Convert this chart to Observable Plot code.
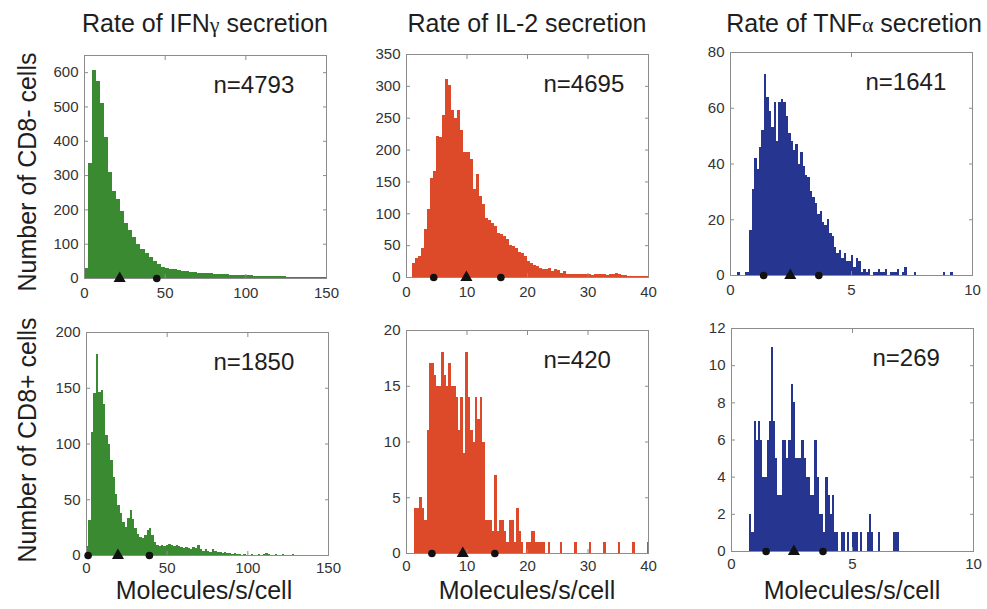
<!DOCTYPE html>
<html><head><meta charset="utf-8">
<script src="https://cdn.jsdelivr.net/npm/d3@7"></script>
<script src="https://cdn.jsdelivr.net/npm/@observablehq/plot@0.6"></script>
<style>
body{margin:0;background:#fff;}
#root{position:relative;width:987px;height:609px;overflow:hidden;font-family:"Liberation Sans",Arial,sans-serif;color:#1e1e1e;}
.lbl{position:absolute;font-size:25px;white-space:nowrap;line-height:1;}
.ctr{transform:translateX(-50%);}
.rot{transform:translate(-50%,-50%) rotate(-90deg);}
.gk{font-family:"Liberation Serif","DejaVu Serif",serif;font-size:22px;}
.panel{position:absolute;}
</style></head><body><div id="root"></div>
<script>
// ---------- data ----------
const rowLabels = ["Number of CD8- cells", "Number of CD8+ cells"];
const xLabel = "Molecules/s/cell";
const nLabels = ["n=4793", "n=4695", "n=1641", "n=1850", "n=420", "n=269"];

const xTicksIFNg = [0, 50, 100, 150];
const xTicksIL2 = [0, 10, 20, 30, 40];
const xTicksTNFa = [0, 5, 10];
const yTicksIFNgNeg = [0, 100, 200, 300, 400, 500, 600];
const yTicksIL2Neg = [0, 50, 100, 150, 200, 250, 300, 350];
const yTicksTNFaNeg = [0, 20, 40, 60, 80];
const yTicksIFNgPos = [0, 50, 100, 150, 200];
const yTicksIL2Pos = [0, 5, 10, 15, 20];
const yTicksTNFaPos = [0, 2, 4, 6, 8, 10, 12];

// histogram bins: first bin start, bin width, counts
const ifngNegStart = 0, ifngNegWidth = 2.5;
const ifngNegCounts = [30,335,605,575,510,410,310,255,230,195, 160,140,120,98,85,72,60,50,42,32,
  28,26,25,22,21,19,18,17,16,15, 15,14,13,12,12,11,10,10,9,9, 8,8,7,7,6,6,6,5,5,5, 4,4,4,3,4,3,3,3,2,3];

const il2NegStart = 1.0, il2NegWidth = 0.5;
const il2NegCounts = [22,30,33,46,75,106,156,167,222,220, 254,311,301,262,249,262,230,196,196,185,
  138,162,127,114,93,90,85,80,69,67, 64,59,51,48,46,40,38,33,25,22, 19,17,14,12,12,14,9,13,11,6,
  9,5,5,5,4,4,5,4,4,3, 4,4,4,4,3,4,4,6,4,3, 3,1,1,1,1,1,1,1];

const tnfaNegStart = 0.3, tnfaNegWidth = 0.1;
const tnfaNegCounts = [1,0,0,1,1, 16,31,42,38,46, 52,72,64,59,53, 62,48,62,63,62, 57,51,48,45,47,
  40,44,39,36,35, 30,28,26,22,23, 19,18,20,15,14, 10,8,9,6,8, 5,5,7,3,6, 5,1,2,1,2, 0,1,1,2,1,
  1,2,0,1,1, 1,2,0,1,3, 0,0,0,1,0, 0,0,0,0,0, 0,0,0,0,0, 1,0,0,1];

const ifngPosStart = 0, ifngPosWidth = 1.5;
const ifngPosCounts = [8,31,110,145,180,146,148,135,108,100, 85,70,55,45,38,30,25,33,40,32,
  24,19,16,15,18,22,24,18,12,9, 8,9,8,9,10,9,8,9,8,7, 6,7,6,5,7,6,9,5,4,5,
  4,3,5,4,3,3,2,3,2,2, 1,2,1,1,0,1,0,0,1,0, 0,1,0,1,2,1,0,0,1,0, 0,1,0,0,0,1,0,0,0,0];

const il2PosStart = 1.4, il2PosWidth = 0.4;
const il2PosCounts = [4,4,5,4,3,11,17,17,16,15, 15,18,16,15,17,15,15,14,11,14,
  9,18,14,11,10,14,12,14,10,3, 3,3,2,7,2,3,3,2,1,3, 3,1,4,2,1,0,1,1,2,2,
  1,1,1,1,0,1,0,0,0,0, 1,0,0,0,0,0,1,0,0,0, 0,0,1,0,0,0,0,0,1,0, 0,0,0,0,1,0,0,0,0,0, 1,0,0,0,0,0,1];

const tnfaPosStart = 0.75, tnfaPosWidth = 0.09;
const tnfaPosCounts = [2,1,7,6,7,6,4,4,6,7, 11,7,5,3,3,6,6,5,6,9, 8,5,5,5,6,5,4,4,3,3,
  6,4,2,2,1,4,3,2,3,1, 1,0,1,1,0,1,0,1,1,1, 0,1,0,0,1,2,1,0,0,1, 0,0,0,0,0,0,1,1,1];

// summary markers (circles = quartiles, triangle = median)
const ifngNegCircles = [44.8], ifngNegTriangle = [21.8];
const il2NegCircles = [4.5, 15.6], il2NegTriangle = [9.9];
const tnfaNegCircles = [1.37, 3.65], tnfaNegTriangle = [2.47];
const ifngPosCircles = [1.0, 39.0], ifngPosTriangle = [19.5];
const il2PosCircles = [4.2, 14.6], il2PosTriangle = [9.3];
const tnfaPosCircles = [1.43, 3.78], tnfaPosTriangle = [2.58];

const green = "#3a8a32", red = "#dc4a2a", blue = "#26358f";

// ---------- layout ----------
const root = document.getElementById("root");
const FW = 242, FH = 223;
const ML = 50, MR = 14, MT = 12, MB = 34;

const panels = [
  {left: 84, top: 55, start: ifngNegStart, w: ifngNegWidth, counts: ifngNegCounts, xMax: 150, yMax: 650, xt: xTicksIFNg, yt: yTicksIFNgNeg, color: green, c: ifngNegCircles, t: ifngNegTriangle, n: nLabels[0], nx: 129, pad: 13},
  {left: 406, top: 54, start: il2NegStart, w: il2NegWidth, counts: il2NegCounts, xMax: 40, yMax: 350, xt: xTicksIL2, yt: yTicksIL2Neg, color: red, c: il2NegCircles, t: il2NegTriangle, n: nLabels[1], nx: 137, pad: 13},
  {left: 730, top: 52, start: tnfaNegStart, w: tnfaNegWidth, counts: tnfaNegCounts, xMax: 10, yMax: 80, xt: xTicksTNFa, yt: yTicksTNFaNeg, color: blue, c: tnfaNegCircles, t: tnfaNegTriangle, n: nLabels[2], nx: 135, pad: 13},
  {left: 86, top: 332, start: ifngPosStart, w: ifngPosWidth, counts: ifngPosCounts, xMax: 150, yMax: 200, xt: xTicksIFNg, yt: yTicksIFNgPos, color: green, c: ifngPosCircles, t: ifngPosTriangle, n: nLabels[3], nx: 127, pad: 11},
  {left: 406, top: 330, start: il2PosStart, w: il2PosWidth, counts: il2PosCounts, xMax: 40, yMax: 20, xt: xTicksIL2, yt: yTicksIL2Pos, color: red, c: il2PosCircles, t: il2PosTriangle, n: nLabels[4], nx: 137, pad: 11},
  {left: 731, top: 328, start: tnfaPosStart, w: tnfaPosWidth, counts: tnfaPosCounts, xMax: 10, yMax: 12, xt: xTicksTNFa, yt: yTicksTNFaPos, color: blue, c: tnfaPosCircles, t: tnfaPosTriangle, n: nLabels[5], nx: 141, pad: 11}
];

for (const p of panels) {
  const bins = p.counts.map((c, i) => ({x1: p.start + i * p.w, x2: p.start + (i + 1) * p.w, count: c})).filter(d => d.count > 0);
  const chart = Plot.plot({
    width: ML + FW + MR, height: MT + FH + MB,
    marginLeft: ML, marginRight: MR, marginTop: MT, marginBottom: MB,
    style: {fontFamily: "'Liberation Sans', Arial, sans-serif", fontSize: "15px", color: "#333", background: "transparent", overflow: "visible"},
    x: {domain: [0, p.xMax]},
    y: {domain: [0, p.yMax]},
    marks: [
      Plot.rectY(bins, {x1: "x1", x2: "x2", y1: 0, y2: "count", fill: p.color, shapeRendering: "crispEdges"}),
      Plot.frame({stroke: "#8c8c8c"}),
      Plot.axisX(p.xt, {anchor: "bottom", tickSize: -4, tickPadding: p.pad, fontSize: 15, stroke: "#8c8c8c", fill: "#333", label: null}),
      Plot.axisX(p.xt, {anchor: "top", tickSize: -4, tickFormat: () => "", stroke: "#8c8c8c", label: null}),
      Plot.axisY(p.yt, {anchor: "left", tickSize: -4, tickPadding: 10, fontSize: 15, stroke: "#8c8c8c", fill: "#333", label: null}),
      Plot.axisY(p.yt, {anchor: "right", tickSize: -4, tickFormat: () => "", stroke: "#8c8c8c", label: null}),
      Plot.dot(p.c, {x: d => d, y: () => 0, r: 3.8, fill: "#111", stroke: "none", symbol: "circle"}),
      Plot.dot(p.t, {x: d => d, y: () => 0, r: 4.5, fill: "#111", stroke: "none", symbol: "triangle"}),
      Plot.text([p.n], {text: d => d, frameAnchor: "top-left", dx: p.nx, dy: 30, lineAnchor: "middle", textAnchor: "start", fontSize: 24, fill: "#1e1e1e"})
    ]
  });
  const wrap = document.createElement("div");
  wrap.className = "panel";
  wrap.style.left = (p.left - ML) + "px";
  wrap.style.top = (p.top - MT) + "px";
  wrap.appendChild(chart);
  root.appendChild(wrap);
}

function addLabel(html, x, y, cls) {
  const d = document.createElement("div");
  d.className = "lbl " + cls;
  d.style.left = x + "px";
  d.style.top = y + "px";
  d.innerHTML = html;
  root.appendChild(d);
}
addLabel('Rate of IFN<span class="gk">γ</span> secretion', 205, 11, "ctr");
addLabel('Rate of IL-2 secretion', 527, 11, "ctr");
addLabel('Rate of TNF<span class="gk">α</span> secretion', 854, 11, "ctr");
addLabel(rowLabels[0], 27, 172, "rot");
addLabel(rowLabels[1], 27, 440, "rot");
addLabel(xLabel, 204, 578, "ctr");
addLabel(xLabel, 527, 578, "ctr");
addLabel(xLabel, 852, 578, "ctr");
</script></body></html>
